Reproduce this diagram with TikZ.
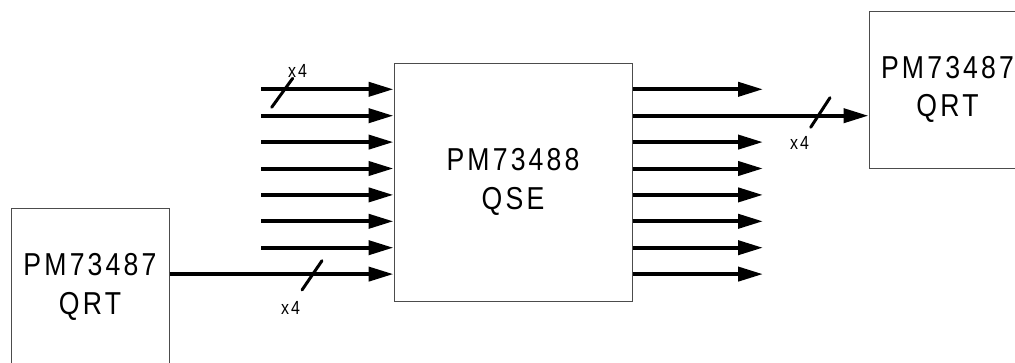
\documentclass[tikz,border=0pt]{standalone}
\usepackage{fontspec}
\setmainfont{Liberation Sans}[FakeStretch=0.84, LetterSpace=10]
\usetikzlibrary{arrows.meta}
\begin{document}
\begin{tikzpicture}[x=1pt,y=-1pt,
  chip/.style={draw=black!70, line width=1pt, inner sep=0pt, align=center,
    font=\fontsize{31.7}{38.5}\selectfont},
  bus/.style={line width=4pt, -{Triangle[length=25pt,width=14pt]}},
  slashmark/.style={line width=3pt, line cap=round},
  lbl/.style={inner sep=0pt, font=\fontsize{19}{22}\selectfont}]
\useasboundingbox (0,0) rectangle (1015,362);
% boxes
\node[chip, minimum width=238pt, minimum height=238pt] (qse) at (513,182) {PM73488\\QSE};
\node[chip, minimum width=158pt, minimum height=157pt] (lqrt) at (90,287) {PM73487\\QRT};
\node[chip, minimum width=157pt, minimum height=157pt] (rqrt) at (947.5,89.5) {PM73487\\QRT};
% inputs
\foreach \i in {1,...,8} {
  \pgfmathsetmacro{\yy}{89.3+26.4*(\i-1)}
  \coordinate (in\i) at (261, \yy);
  \coordinate (out\i) at (763, \yy);
}
\foreach \i in {1,...,7} {
  \draw[bus] (in\i) -- (qse.west |- in\i);
}
\draw[bus] (lqrt.east |- in8) -- (qse.west |- in8);
% outputs
\foreach \i in {1,3,4,5,6,7,8} {
  \draw[bus] (qse.east |- out\i) -- (out\i);
}
\draw[bus] (qse.east |- out2) -- (rqrt.west |- out2);
% slash marks
\coordinate (s1a) at (271.7,107.3); \coordinate (s1b) at (292.7,78.3);
\coordinate (s2a) at (302,290);     \coordinate (s2b) at (322,260.7);
\coordinate (s3a) at (810.7,127.3); \coordinate (s3b) at (830,97.7);
\draw[slashmark] (s1a) -- (s1b);
\draw[slashmark] (s2a) -- (s2b);
\draw[slashmark] (s3a) -- (s3b);
\node[lbl] (x1) at (297.5,71) {x4};
\node[lbl] (x2) at (290.5,308) {x4};
\node[lbl] (x3) at (799.5,143) {x4};
\end{tikzpicture}
\end{document}
